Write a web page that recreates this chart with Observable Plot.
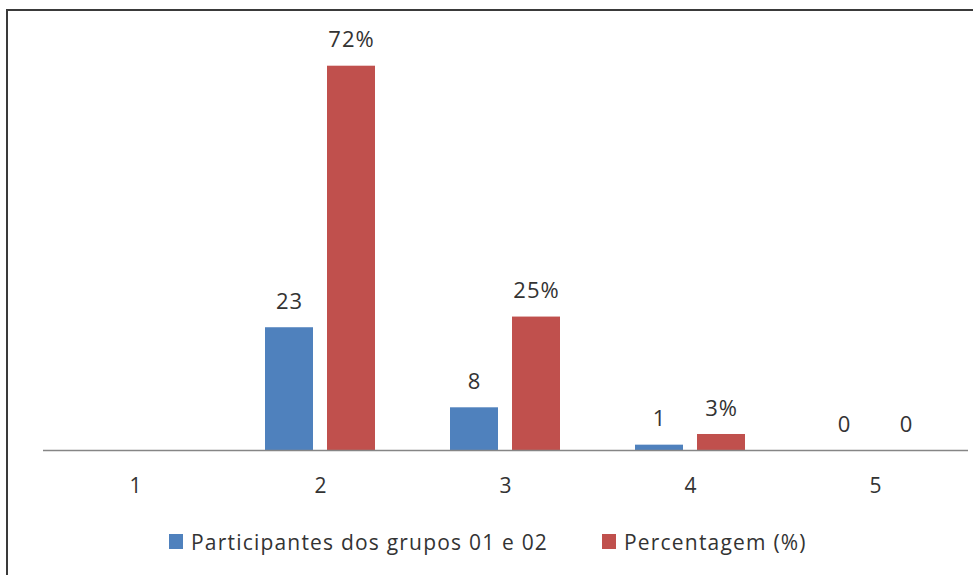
<!DOCTYPE html>
<html>
<head>
<meta charset="utf-8">
<script src="https://cdn.jsdelivr.net/npm/d3@7"></script>
<script src="https://cdn.jsdelivr.net/npm/@observablehq/plot@0.6"></script>
<style>
  html, body { margin: 0; padding: 0; background: #fff; width: 973px; height: 575px; overflow: hidden; }
  #frame { position: absolute; left: 6px; top: 9px; width: 1000px; height: 600px; border: 2px solid #3a3a3a; box-sizing: border-box; }
  #chart { position: absolute; left: 0; top: 0; }
  .leg { position: absolute; top: 528px; height: 27px; display: flex; align-items: center; font-family: "Open Sans", sans-serif; font-size: 21px; letter-spacing: 1.2px; color: #333; white-space: nowrap; }
  .sw { width: 14px; height: 15px; margin-right: 8px; }
</style>
</head>
<body>
<div id="frame"></div>
<div id="chart"></div>
<div class="leg" style="left:169px"><span class="sw" style="background:#4F81BD"></span><span id="l1"></span></div>
<div class="leg" style="left:602px"><span class="sw" style="background:#C0504D"></span><span id="l2"></span></div>
<script>
const categories = [1, 2, 3, 4, 5];
const participantes = [null, 23, 8, 1, 0];
const percentagem = [null, 72, 25, 3, 0];
const seriesNames = ["Participantes dos grupos 01 e 02", "Percentagem (%)"];
const colors = ["#4F81BD", "#C0504D"];

const data = [];
categories.forEach((c, i) => {
  if (participantes[i] != null) data.push({cat: c, series: seriesNames[0], value: participantes[i], label: String(participantes[i])});
  if (percentagem[i] != null) data.push({cat: c, series: seriesNames[1], value: percentagem[i], label: percentagem[i] === 0 ? "0" : percentagem[i] + "%"});
});

document.getElementById("l1").textContent = seriesNames[0];
document.getElementById("l2").textContent = seriesNames[1];

const chart = Plot.plot({
  width: 973,
  height: 510,
  marginLeft: 42,
  marginRight: 5,
  marginTop: 23,
  marginBottom: 60,
  style: {fontFamily: "Open Sans, sans-serif", fontSize: "21px", color: "#333", background: "transparent", letterSpacing: "1px"},
  fx: {domain: categories, padding: 0, label: null},
  x: {domain: seriesNames, paddingInner: 0.22, paddingOuter: 0.58, axis: null},
  y: {domain: [0, 80], axis: null},
  color: {domain: seriesNames, range: colors},
  marks: [
    Plot.barY(data, {fx: "cat", x: "series", y: "value", fill: "series"}),
    Plot.ruleY(categories, {fx: d => d, y: 0, stroke: "#868686", strokeWidth: 1.5}),
    Plot.text(data, {fx: "cat", x: "series", y: "value", text: "label", dy: -26, fill: "#333", fontSize: 22}),
    Plot.axisFx({anchor: "bottom", tickSize: 0, tickPadding: 28, label: null, fontSize: 21, fill: "#333"})
  ]
});
document.getElementById("chart").appendChild(chart);
</script>
</body>
</html>
